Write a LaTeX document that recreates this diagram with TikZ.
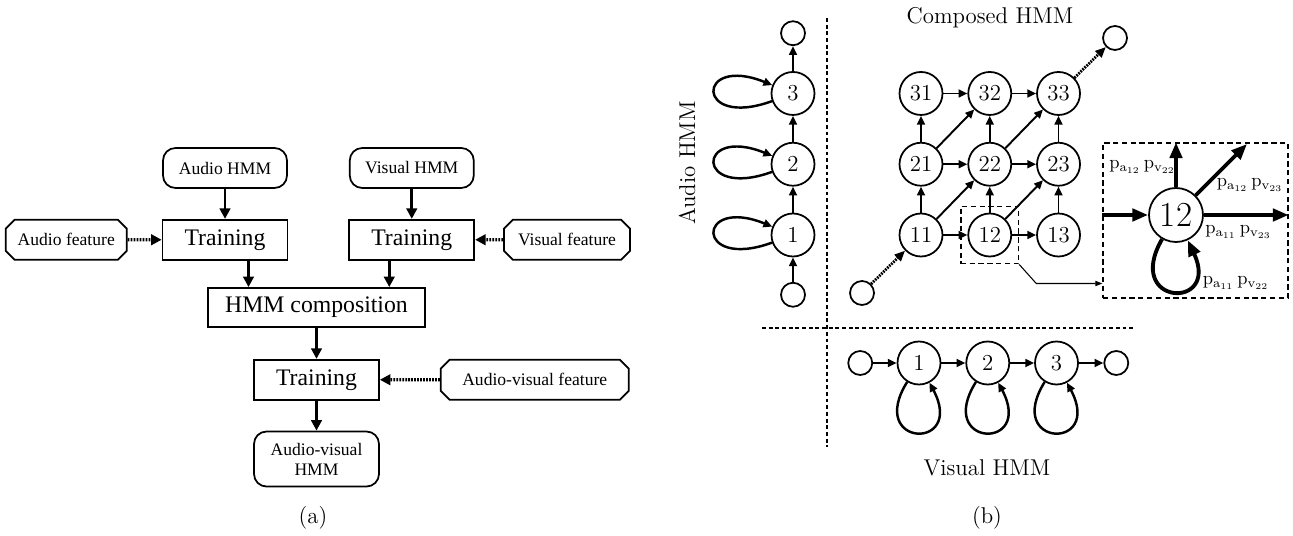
\documentclass[tikz,border=0pt]{standalone}
\usepackage{fontspec}
\newfontfamily\timesfont{Liberation Serif}
\usepackage{tikz}
\usetikzlibrary{arrows.meta,positioning,fit,shapes.misc}

\begin{document}
\begin{tikzpicture}[
      node distance=0.6cm and 0.6cm,
      >=Triangle,
      box/.style={draw, line width=1pt, align=center, minimum height=0.8cm,
        font=\timesfont\fontsize{13.5}{16}\selectfont},
      rbox/.style={draw, line width=1pt, rounded corners=0.25cm, align=center,
        minimum height=0.8cm, font=\timesfont\fontsize{10}{11.5}\selectfont},
      fbox/.style={draw, line width=1pt, chamfered rectangle,
        chamfered rectangle xsep=2.5pt, chamfered rectangle ysep=2.5pt,
        minimum height=0.8cm, inner xsep=0pt, font=\timesfont\fontsize{10}{12}\selectfont},
      flow/.style={-{Triangle[length=6pt,width=6pt]}, line width=1.6pt},
      feed/.style={-{Triangle[length=6pt,width=6pt]}, line width=1.8pt,
        dash pattern=on 1pt off 0.7pt},
      hstate/.style={draw, circle, line width=1pt, minimum size=0.86cm,
        inner sep=0pt, font=\fontsize{13}{15}\selectfont},
      endst/.style={draw, circle, line width=1pt, minimum size=0.48cm, inner sep=0pt},
      trans/.style={-{Triangle[length=5pt,width=4.5pt]}, line width=1.1pt},
      selfloop/.style={-{Triangle[length=5pt,width=4.5pt]}, line width=1.4pt},
      hop/.style={-{Triangle[length=6pt,width=5pt]}, line width=1.6pt,
        dash pattern=on 1pt off 0.6pt},
      divider/.style={line width=1.4pt, dash pattern=on 2.2pt off 1.6pt},
      zoomframe/.style={draw, line width=0.7pt, dash pattern=on 3pt off 2pt},
      bigtrans/.style={-{Triangle[length=9pt,width=7pt]}, line width=2.2pt},
      pointer/.style={-{Triangle[length=4pt,width=3pt]}, line width=0.6pt},
      plabel/.style={font=\fontsize{10.5}{12}\selectfont, inner sep=1pt},
      caption/.style={font=\fontsize{13}{15}\selectfont}
    ]
    \useasboundingbox (0,0) rectangle (25.86,-10.72);

    % (a) training flow
    \node[rbox, minimum width=2.48cm] (ahmm) at (4.5,-3.36) {Audio HMM};
    \node[box, minimum width=2.5cm, below=of ahmm] (train1) {Training};
    \node[fbox, minimum width=2.42cm, left=0.68cm of train1] (afeat) {Audio feature};
    \node[box, minimum width=2.5cm, right=1.2cm of train1] (train2) {Training};
    \node[rbox, minimum width=2.48cm, above=of train2] (vhmm) {Visual HMM};
    \node[fbox, minimum width=2.52cm, right=0.56cm of train2] (vfeat) {Visual feature};
    \node[box, minimum width=4.34cm, minimum height=0.78cm] (comp) at (6.33,-6.15) {HMM composition};
    \node[box, minimum width=2.5cm, below=0.62cm of comp] (train3) {Training};
    \node[fbox, minimum width=3.76cm, right=1.2cm of train3] (avfeat) {Audio-visual feature};
    \node[rbox, minimum width=2.5cm, minimum height=1.1cm, below=of train3] (avhmm) {Audio-visual\\HMM};
    \node[caption] (capa) at (6.26,-10.36) {(a)};

    \draw[flow] (ahmm) -- (train1);
    \draw[flow] (vhmm) -- (train2);
    \draw[feed] (afeat) -- (train1);
    \draw[feed] (vfeat) -- (train2);
    \draw[flow] ([xshift=0.47cm]train1.south) -- ([xshift=0.47cm]train1.south |- comp.north);
    \draw[flow] ([xshift=-0.45cm]train2.south) -- ([xshift=-0.45cm]train2.south |- comp.north);
    \draw[flow] (comp) -- (train3);
    \draw[feed] (avfeat) -- (train3);
    \draw[flow] (train3) -- (avhmm);

    % (b) audio HMM
    \node[hstate] (a1) at (15.86,-4.70) {1};
    \node[hstate, above=0.52cm of a1] (a2) {2};
    \node[hstate, above=0.52cm of a2] (a3) {3};
    \node[endst, below=0.49cm of a1] (a0) {};
    \node[endst, above=0.5cm of a3] (aend) {};
    \node[caption, rotate=90] (alabel) at (13.74,-3.26) {Audio HMM};

    \draw[trans] (a0) -- (a1);
    \draw[trans] (a1) -- (a2);
    \draw[trans] (a2) -- (a3);
    \draw[trans] (a3) -- (aend);
    \draw[selfloop] (a1) to[out=200, in=158, distance=1.65cm] (a1);
    \draw[selfloop] (a2) to[out=200, in=158, distance=1.65cm] (a2);
    \draw[selfloop] (a3) to[out=200, in=158, distance=1.65cm] (a3);

    % (b) composed HMM
    \node[hstate] (s11) at (18.42,-4.70) {11};
    \node[hstate, right=0.48cm of s11] (s12) {12};
    \node[hstate, right=0.48cm of s12] (s13) {13};
    \node[hstate, above=0.52cm of s11] (s21) {21};
    \node[hstate, right=0.48cm of s21] (s22) {22};
    \node[hstate, right=0.48cm of s22] (s23) {23};
    \node[hstate, above=0.52cm of s21] (s31) {31};
    \node[hstate, right=0.48cm of s31] (s32) {32};
    \node[hstate, right=0.48cm of s32] (s33) {33};
    \node[endst] (g0) at (17.24,-5.86) {};
    \node[endst] (gend) at (22.3,-0.76) {};
    \node[caption] (clabel) at (19.8,-0.36) {Composed HMM};

    \draw[hop] (g0) -- (s11);
    \draw[hop] (s33) -- (gend);
    \draw[trans] (s11) -- (s12);
    \draw[trans] (s12) -- (s13);
    \draw[trans] (s21) -- (s22);
    \draw[trans] (s22) -- (s23);
    \draw[trans] (s31) -- (s32);
    \draw[trans] (s32) -- (s33);
    \draw[trans] (s11) -- (s21);
    \draw[trans] (s21) -- (s31);
    \draw[trans] (s12) -- (s22);
    \draw[trans] (s22) -- (s32);
    \draw[trans] (s13) -- (s23);
    \draw[trans] (s23) -- (s33);
    \draw[trans] (s11) -- (s22);
    \draw[trans] (s21) -- (s32);
    \draw[trans] (s12) -- (s23);
    \draw[trans] (s22) -- (s33);

    % zoomed state 12
    \node[zoomframe, fit=(s12), inner sep=0.13cm] (zsmall) {};
    \node[zoomframe, minimum width=3.7cm, minimum height=3.1cm] (zbig) at (23.91,-4.41) {};
    \node[hstate, minimum size=1.08cm, font=\fontsize{20}{22}\selectfont] (big12) at (23.52,-4.30) {12};
    \coordinate (diagtip) at (24.94,-2.88);
    \draw[pointer] (zsmall.south east) -- ++(0.34,-0.38) coordinate (kink) -- (kink -| zbig.west);

    \draw[bigtrans] (zbig.west |- big12) -- (big12);
    \draw[bigtrans] (big12) -- (big12 |- zbig.north);
    \draw[bigtrans] (big12) -- (diagtip);
    \draw[bigtrans] (big12) -- (zbig.east |- big12);
    \draw[bigtrans] (big12) to[out=240, in=295, distance=1.55cm] (big12);

    \node[plabel] (pup) at (22.85,-3.34) {$\mathrm{p}_{\mathrm{a}_{12}}\,\mathrm{p}_{\mathrm{v}_{22}}$};
    \node[plabel] (pdiag) at (25.0,-3.70) {$\mathrm{p}_{\mathrm{a}_{12}}\,\mathrm{p}_{\mathrm{v}_{23}}$};
    \node[plabel] (pright) at (24.77,-4.64) {$\mathrm{p}_{\mathrm{a}_{11}}\,\mathrm{p}_{\mathrm{v}_{23}}$};
    \node[plabel] (ploop) at (24.72,-5.66) {$\mathrm{p}_{\mathrm{a}_{11}}\,\mathrm{p}_{\mathrm{v}_{22}}$};

    % (b) visual HMM
    \node[hstate] (v1) at (18.38,-7.26) {1};
    \node[hstate, right=0.48cm of v1] (v2) {2};
    \node[hstate, right=0.48cm of v2] (v3) {3};
    \node[endst, left=0.47cm of v1] (v0) {};
    \node[endst, right=0.49cm of v3] (vend) {};
    \node[caption] (vlabel) at (19.74,-9.36) {Visual HMM};
    \node[caption] (capb) at (19.74,-10.36) {(b)};

    \draw[trans] (v0) -- (v1);
    \draw[trans] (v1) -- (v2);
    \draw[trans] (v2) -- (v3);
    \draw[trans] (v3) -- (vend);
    \draw[selfloop] (v1) to[out=238, in=298, distance=1.55cm] (v1);
    \draw[selfloop] (v2) to[out=238, in=298, distance=1.55cm] (v2);
    \draw[selfloop] (v3) to[out=238, in=298, distance=1.55cm] (v3);

    % dividers
    \draw[divider] (16.54,-0.36) -- (16.54,-8.94);
    \draw[divider] (15.24,-6.56) -- (22.66,-6.56);
  \end{tikzpicture}
\end{document}
